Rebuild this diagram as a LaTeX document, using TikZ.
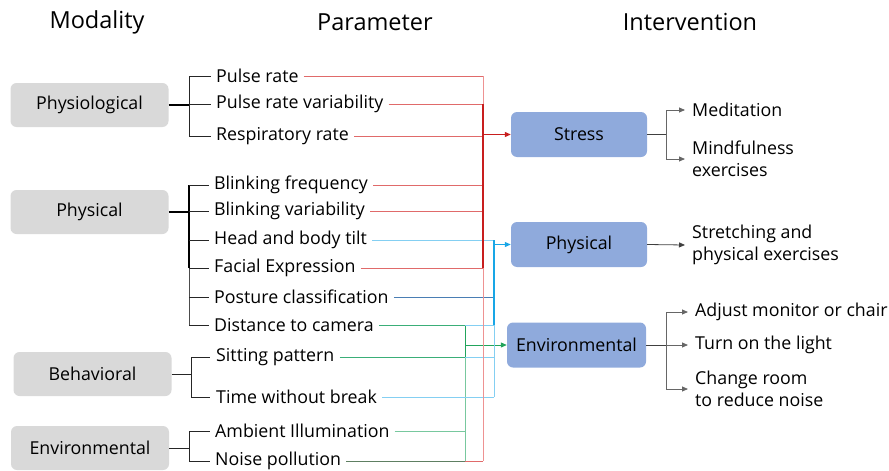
\documentclass[tikz,border=0pt]{standalone}
\usepackage{fontspec}
\setmainfont{Open Sans}
\usetikzlibrary{arrows.meta}
\definecolor{modfill}{HTML}{D9D9D9}
\definecolor{intfill}{HTML}{8FAADC}
\definecolor{redln}{HTML}{E06A6A}
\definecolor{redbus}{HTML}{C81E1E}
\definecolor{redlt}{HTML}{EE9292}
\definecolor{bluelt}{HTML}{84CFF2}
\definecolor{bluedk}{HTML}{4A7EB4}
\definecolor{bluebus}{HTML}{18A6E6}
\definecolor{greenln}{HTML}{3AAE78}
\definecolor{greenlt}{HTML}{78C89E}
\definecolor{greenbus}{HTML}{22A45C}
\definecolor{greydk}{HTML}{5E7F62}
\begin{document}
\begin{tikzpicture}[x=1pt,y=-1pt,
  lbl/.style={font=\fontsize{17.8}{21}\selectfont, text=black},
  modbox/.style={lbl, fill=modfill, rounded corners=6pt, minimum width=158pt, minimum height=44pt, inner sep=0pt},
  intbox/.style={lbl, fill=intfill, rounded corners=6pt, minimum width=136pt, minimum height=45pt, inner sep=0pt},
  param/.style={lbl, anchor=west, inner sep=2pt},
  outcome/.style={lbl, anchor=west, align=left, inner sep=2pt, font=\fontsize{17.8}{22}\selectfont},
  head/.style={font=\fontsize{23.5}{28}\selectfont, text=black},
  trunk/.style={draw=black, line width=1.6pt},
  branch/.style={draw=black!85, line width=0.8pt},
  tip/.style={-{Triangle[length=6pt,width=5pt]}},
  feed/.style={line width=1pt}
]
\useasboundingbox (0,0) rectangle (889,471);

% column headings
\node[head] (hMod) at (97,22) {Modality};
\node[head] (hPar) at (375,22) {Parameter};
\node[head] (hInt) at (690,22) {Intervention};

% modalities
\node[modbox] (mPhysio) at (89.5,105) {Physiological};
\node[modbox] (mPhys) at (89.5,212) {Physical};
\node[modbox] (mBeh) at (92.5,374) {Behavioral};
\node[modbox] (mEnv) at (90,448) {Environmental};

% parameters
\node[param] (p1) at (214,76) {Pulse rate};
\node[param] (p2) at (214,104) {Pulse rate variability};
\node[param] (p3) at (214,136) {Respiratory rate};
\node[param] (p4) at (212,185) {Blinking frequency};
\node[param] (p5) at (212,211) {Blinking variability};
\node[param] (p6) at (212,240) {Head and body tilt};
\node[param] (p7) at (212,268) {Facial Expression};
\node[param] (p8) at (212,297) {Posture classification};
\node[param] (p9) at (212,325) {Distance to camera};
\node[param] (p10) at (214,357) {Sitting pattern};
\node[param] (p11) at (214,397) {Time without break};
\node[param] (p12) at (213,431) {Ambient Illumination};
\node[param] (p13) at (213,461) {Noise pollution};

% interventions
\node[intbox] (iStress) at (579,134.5) {Stress};
\node[intbox] (iPhys) at (579,244.5) {Physical};
\node[intbox, minimum width=139pt] (iEnv) at (576.5,345) {Environmental};

% recommended actions
\node[outcome] (o1) at (690,110) {Meditation};
\node[outcome] (o2) at (690,159) {Mindfulness\\exercises};
\node[outcome] (o3) at (690,245) {Stretching and\\physical exercises};
\node[outcome] (o4) at (693,312) {Adjust monitor or chair};
\node[outcome] (o5) at (693,345) {Turn on the light};
\node[outcome] (o6) at (693,389) {Change room\\to reduce noise};

% junction and bus positions
\coordinate (j1) at (189,0);
\coordinate (j3) at (191,0);
\coordinate (k1) at (666,0);
\coordinate (rb) at (483,0);
\coordinate (bb) at (494,0);
\coordinate (gb) at (465,0);

% modality trees
\draw[trunk] (mPhysio.east) -- (j1 |- mPhysio.east);
\draw[branch] (j1 |- p1.west) -- (j1 |- p3.west);
\foreach \p in {p1,p2,p3} \draw[branch] (j1 |- \p.west) -- ([xshift=-3pt]\p.west);
\draw[trunk] (mPhys.east) -- (j1 |- mPhys.east);
\draw[trunk] (j1 |- p4.west) -- (j1 |- p7.west);
\draw[branch, draw=black!70] (j1 |- p7.west) -- (j1 |- p9.west);
\foreach \p in {p4,p5,p6,p7,p8,p9} \draw[branch] (j1 |- \p.west) -- ([xshift=-3pt]\p.west);
\draw[branch] (mBeh.east) -- (j3 |- mBeh.east);
\draw[branch] (j3 |- p10.west) -- (j3 |- p11.west);
\foreach \p in {p10,p11} \draw[branch] (j3 |- \p.west) -- ([xshift=-4pt]\p.west);
\draw[branch] (mEnv.east) -- (j1 |- mEnv.east);
\draw[branch] (j1 |- p12.west) -- (j1 |- p13.west);
\foreach \p in {p12,p13} \draw[branch] (j1 |- \p.west) -- ([xshift=-3pt]\p.west);

% green feeds to the environmental intervention
\draw[feed, greenln] ([xshift=3pt]p9.east) -- (gb |- p9.east);
\draw[feed, greenln] ([xshift=3pt]p10.east) -- (gb |- p10.east);
\draw[feed, greenlt] ([xshift=3pt]p12.east) -- (gb |- p12.east);
\draw[feed, greydk] ([xshift=3pt]p13.east) -- (gb |- p13.east);
\draw[feed, greenbus] (gb |- p9.east) -- (gb |- p10.east);
\draw[feed, greenlt] (gb |- p10.east) -- (gb |- p13.east);
\draw[feed, greenbus, tip] (gb |- iEnv.west) -- (iEnv.west);

% blue feeds to the physical intervention
\draw[feed, bluelt] ([xshift=3pt]p6.east) -- (bb |- p6.east);
\draw[feed, bluedk] ([xshift=3pt]p8.east) -- (bb |- p8.east);
\draw[feed, bluelt] (gb |- p9.east) -- (bb |- p9.east);
\draw[feed, bluelt] (gb |- p10.east) -- (bb |- p10.east);
\draw[feed, bluelt] ([xshift=3pt]p11.east) -- (bb |- p11.east);
\draw[feed, bluebus, line width=1.3pt] (bb |- p6.east) -- (bb |- p9.east);
\draw[feed, bluelt] (bb |- p9.east) -- (bb |- p11.east);
\draw[feed, bluebus, tip] (bb |- iPhys.west) -- (iPhys.west);

% red feeds to the stress intervention
\foreach \p in {p1,p2,p3,p4,p5,p7}
  \draw[feed, redln] ([xshift=3pt]\p.east) -- (rb |- \p.east);
\draw[feed, redln] (gb |- p13.east) -- (rb |- p13.east);
\draw[feed, redlt] (rb |- p1.east) -- (rb |- p2.east);
\draw[feed, redbus, line width=1.3pt] (rb |- p2.east) -- (rb |- p7.east);
\draw[feed, redlt] (rb |- p7.east) -- (rb |- p13.east);
\draw[feed, redbus, tip] (rb |- iStress.west) -- (iStress.west);

% intervention outputs
\draw[branch, draw=black!75] (iStress.east) -- (k1 |- iStress.east);
\draw[branch, draw=black!60] (k1 |- o1.west) -- (k1 |- o2.west);
\foreach \o in {o1,o2} \draw[branch, draw=black!60, tip] (k1 |- \o.west) -- ([xshift=-5pt]\o.west);
\draw[branch, draw=black!75, tip] (iPhys.east) -- ([xshift=-5pt]o3.west);
\draw[branch, draw=black!75] (iEnv.east) -- (k1 |- iEnv.east);
\draw[branch, draw=black!60] (k1 |- o4.west) -- (k1 |- o6.west);
\foreach \o in {o4,o5,o6} \draw[branch, draw=black!60, tip] (k1 |- \o.west) -- ([xshift=-5pt]\o.west);
\end{tikzpicture}
\end{document}
